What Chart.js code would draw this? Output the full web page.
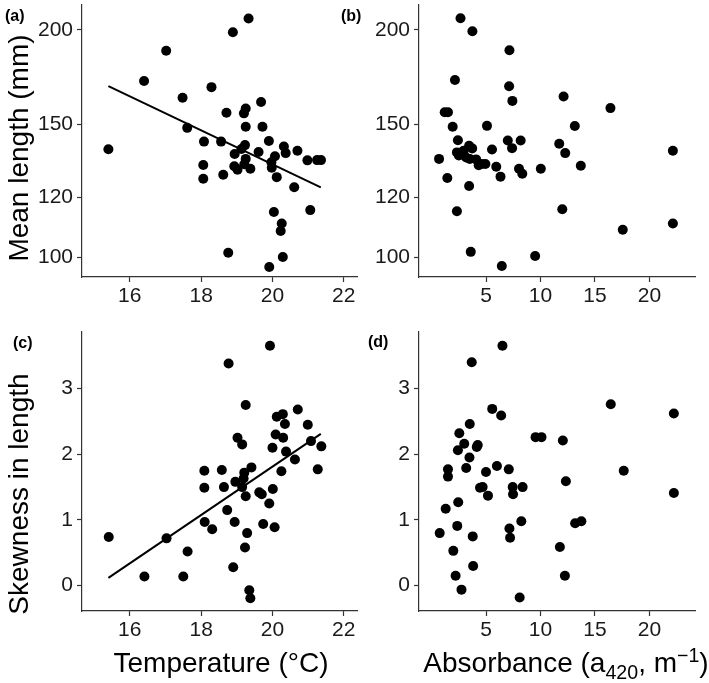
<!DOCTYPE html>
<html>
<head>
<meta charset="utf-8">
<script src="https://cdn.jsdelivr.net/npm/chart.js@4.4.1/dist/chart.umd.min.js"></script>
<style>
body { margin: 0; background: #fff; }
#wrap { position: relative; width: 709px; height: 683px; font-family: "Liberation Sans", Arial, sans-serif; color: #000; overflow: hidden; }
#wrap canvas { position: absolute; }
.tag { position: absolute; font-weight: bold; font-size: 16px; line-height: 16px; }
.xtitle { position: absolute; font-size: 28px; line-height: 28px; white-space: nowrap; transform: translateX(-50%); }
.ytitle { position: absolute; font-size: 28px; line-height: 28px; white-space: nowrap; transform: translate(-50%, -50%) rotate(-90deg); }
sub, sup { font-size: 70%; line-height: 0; }
</style>
</head>
<body>
<div id="wrap">
  <canvas id="cA" width="362" height="310" style="left:0;top:0"></canvas>
  <canvas id="cB" width="340" height="310" style="left:360px;top:0"></canvas>
  <canvas id="cC" width="362" height="330" style="left:0;top:320px"></canvas>
  <canvas id="cD" width="340" height="330" style="left:360px;top:320px"></canvas>

  <div class="tag" style="left:5px;top:8px">(a)</div>
  <div class="tag" style="left:341px;top:8px">(b)</div>
  <div class="tag" style="left:13px;top:335px">(c)</div>
  <div class="tag" style="left:368px;top:334px">(d)</div>

  <div class="ytitle" style="left:19px;top:148px">Mean length (mm)</div>
  <div class="ytitle" style="left:19px;top:494px">Skewness in length</div>
  <div class="xtitle" style="left:221px;top:649px">Temperature (°C)</div>
  <div class="xtitle" style="left:566px;top:649px">Absorbance (a<sub>420</sub>, m<sup>−1</sup>)</div>
</div>

<script>
// tick labels
const tempTicks = [16, 18, 20, 22];
const absTicks = [5, 10, 15, 20];
const lengthTicks = [100, 120, 150, 200];
const skewTicks = [0, 1, 2, 3];

// (a) mean length vs temperature
const tempA = [15.40, 16.40, 17.02, 17.48, 17.61, 18.29, 18.08, 18.06, 18.06, 18.56, 18.62, 18.71,
    18.76, 18.89, 19.33, 18.94, 18.93, 19.02, 19.13, 19.20, 19.25, 19.25, 19.23, 19.25, 19.21, 19.38,
    19.61, 19.68, 19.72, 19.90, 19.97, 19.98, 20.07, 20.12, 20.04, 19.91, 20.26, 20.23, 20.29, 20.32,
    20.37, 20.61, 20.70, 20.98, 21.06, 21.25, 21.36];
const lengthA = [138.9, 171.1, 187.6, 162.6, 148.3, 167.9, 142.2, 132.4, 127.0, 142.2, 128.5, 155.3,
    101.3, 198.5, 207.0, 136.9, 131.9, 130.5, 139.0, 155.0, 157.3, 148.8, 140.7, 134.9, 132.7, 130.9,
    137.8, 160.5, 148.8, 142.5, 133.5, 131.3, 136.0, 127.6, 114.7, 97.0, 110.8, 108.3, 100.0, 140.1,
    137.3, 123.7, 138.3, 134.3, 115.4, 134.4, 134.4];

// (b) mean length vs absorbance
const absB = [0.69, 1.45, 1.21, 1.51, 1.94, 2.15, 2.33, 2.42, 2.33, 2.51, 2.66, 2.94, 3.18, 3.45,
    3.73, 3.51, 3.45, 3.75, 3.60, 4.09, 4.33, 4.60, 4.94, 5.09, 5.55, 5.94, 6.33, 6.45, 7.00, 7.15,
    7.12, 7.42, 7.39, 8.18, 8.03, 8.33, 9.51, 10.03, 11.72, 12.00, 12.12, 12.27, 13.15, 13.70, 16.42,
    17.55, 22.15, 22.15];
const lengthB = [134.9, 127.3, 155.5, 155.5, 148.8, 171.6, 115.0, 142.8, 137.6, 136.3, 207.2, 138.3,
    135.5, 140.4, 139.3, 134.9, 124.2, 199.1, 101.6, 134.7, 132.3, 132.8, 132.8, 149.2, 138.8, 131.7,
    127.8, 97.3, 142.7, 187.9, 168.4, 161.0, 139.4, 142.7, 130.9, 128.9, 100.3, 130.9, 141.3, 115.7,
    163.2, 137.3, 149.1, 132.1, 157.5, 108.7, 138.3, 110.8];

// (c) skewness vs temperature
const tempC = [15.41, 16.41, 17.03, 17.50, 17.62, 18.09, 18.09, 18.10, 18.31, 18.58, 18.64, 18.73,
    18.77, 18.90, 18.94, 18.96, 19.02, 19.15, 19.15, 19.21, 19.19, 19.25, 19.25, 19.29, 19.23, 19.35,
    19.38, 19.41, 19.63, 19.70, 19.74, 19.91, 19.93, 20.00, 20.01, 20.06, 20.09, 20.12, 20.25, 20.29,
    20.30, 20.35, 20.38, 20.63, 20.71, 20.99, 21.08, 21.27, 21.37];
const skewC = [0.74, 0.14, 0.72, 0.14, 0.52, 1.75, 1.49, 0.97, 0.86, 1.76, 1.50, 1.15, 3.38, 0.28,
    0.97, 1.58, 2.25, 2.15, 1.50, 1.72, 1.63, 2.75, 1.36, 0.80, 0.58, -0.07, -0.19, 1.80, 1.42, 1.39,
    0.94, 1.25, 3.65, 2.10, 1.47, 0.89, 2.30, 2.57, 1.74, 2.61, 2.25, 2.46, 2.04, 1.92, 2.68, 2.45,
    2.20, 1.77, 2.12];

// (d) skewness vs absorbance
const absD = [0.75, 1.30, 1.51, 1.51, 2.00, 2.21, 2.36, 2.45, 2.42, 2.55, 2.75, 3.00, 3.18, 3.48,
    3.51, 3.69, 3.78, 3.82, 4.15, 4.24, 4.45, 4.69, 5.00, 5.18, 5.57, 6.00, 6.39, 6.51, 7.09, 7.15,
    7.21, 7.45, 7.48, 8.09, 8.24, 8.36, 9.55, 10.09, 11.78, 12.05, 12.24, 12.33, 13.18, 13.75, 16.45,
    17.64, 22.24, 22.24];
const skewD = [0.80, 1.17, 1.77, 1.66, 0.53, 0.15, 0.91, 1.27, 2.06, 2.32, -0.06, 2.16, 1.79, 1.95,
    2.46, 3.40, 0.75, 0.30, 2.11, 2.14, 1.49, 1.50, 1.73, 1.37, 2.69, 1.82, 2.59, 3.65, 1.77, 0.87,
    0.73, 1.50, 1.39, -0.18, 0.98, 1.50, 2.26, 2.26, 0.59, 2.21, 0.15, 1.59, 0.95, 0.98, 2.76, 1.75,
    2.62, 1.41];

// fitted lines (end points)
const fitTemp = [15.40, 21.355];
const fitLength = [168.4, 123.7];
const fitSkew = [0.12, 2.31];

function toPoints(xs, ys) {
    return xs.map((x, i) => ({ x: x, y: ys[i] }));
}

function axis(type, min, max, tickValues, fitSize, isY) {
    return {
        type: type,
        min: min,
        max: max,
        border: { display: true, color: '#333', width: 1.2 },
        grid: {
            display: true,
            drawOnChartArea: false,
            drawTicks: true,
            tickLength: 5,
            tickColor: '#333',
            tickWidth: 1.2
        },
        ticks: {
            autoSkip: false,
            maxRotation: 0,
            padding: isY ? 4 : 2,
            color: '#1a1a1a',
            font: { family: 'Liberation Sans', size: 21 },
            callback: function(value) { return String(value); }
        },
        afterBuildTicks: function(scale) {
            scale.ticks = tickValues.map(v => ({ value: v }));
        },
        afterFit: function(scale) {
            // fixed box sizes so the plot areas line up with the figure
            if (isY) scale.width = fitSize;
            else scale.height = fitSize;
            scale.paddingTop = 0;
            scale.paddingBottom = 0;
        }
    };
}

function makePanel(id, points, line, xCfg, yCfg, padTop) {
    const datasets = [];
    if (line) {
        datasets.push({
            data: line,
            showLine: true,
            borderColor: '#000',
            borderWidth: 2,
            pointRadius: 0,
            fill: false
        });
    }
    datasets.push({
        data: points,
        backgroundColor: '#000',
        borderWidth: 0,
        pointRadius: 5,
        clip: false
    });

    new Chart(document.getElementById(id), {
        type: 'scatter',
        data: { datasets: datasets },
        options: {
            responsive: false,
            animation: false,
            events: [],
            layout: { padding: { top: padTop, right: 2, left: 0, bottom: 0 } },
            plugins: {
                legend: { display: false },
                tooltip: { enabled: false }
            },
            scales: { x: xCfg, y: yCfg }
        }
    });
}

const tempMin = 14.66, tempMax = 22.37;
const absMin = -1.15, absMax = 24.18;
const lenMin = 94.1, lenMax = 215.7;
const skewMin = -0.385, skewMax = 3.86;

makePanel('cA', toPoints(tempA, lengthA), toPoints(fitTemp, fitLength),
    axis('linear', tempMin, tempMax, tempTicks, 33, false),
    axis('logarithmic', lenMin, lenMax, lengthTicks, 82, true), 0);

makePanel('cB', toPoints(absB, lengthB), null,
    axis('linear', absMin, absMax, absTicks, 33, false),
    axis('logarithmic', lenMin, lenMax, lengthTicks, 59, true), 0);

makePanel('cC', toPoints(tempC, skewC), toPoints(fitTemp, fitSkew),
    axis('linear', tempMin, tempMax, tempTicks, 39, false),
    axis('linear', skewMin, skewMax, skewTicks, 82, true), 12);

makePanel('cD', toPoints(absD, skewD), null,
    axis('linear', absMin, absMax, absTicks, 39, false),
    axis('linear', skewMin, skewMax, skewTicks, 59, true), 12);
</script>
</body>
</html>
